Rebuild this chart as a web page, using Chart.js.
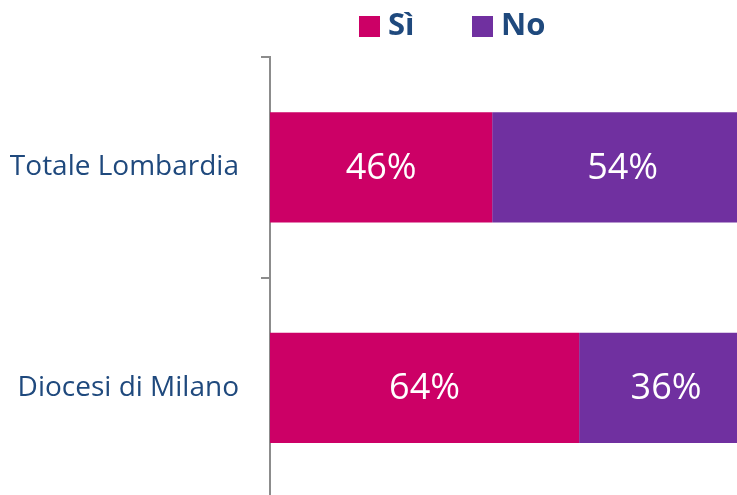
<!DOCTYPE html>
<html>
<head>
<meta charset="utf-8">
<script src="https://cdn.jsdelivr.net/npm/chart.js@4"></script>
<style>
  html, body { margin: 0; padding: 0; background: #fff; overflow: hidden; }
  #wrap { width: 737px; height: 495px; overflow: hidden; }
</style>
</head>
<body>
<div id="wrap"><canvas id="bar-chart" width="753" height="498"></canvas></div>
<script>
// dati
const categorie = ["Totale Lombardia", "Diocesi di Milano"];
const si = [46, 64];
const no = [54, 36];
const nomiSerie = ["Sì", "No"];
const coloriSerie = ["#CC0066", "#7030A0"];

const FONT = "'Open Sans', sans-serif";
const BLU = "#1F497D";

// legenda disegnata a mano per avere la stessa posizione dell'originale
const legendaPlugin = {
  id: "legendaCustom",
  afterDraw(chart) {
    const ctx = chart.ctx;
    const posBox = [359, 472];
    ctx.save();
    ctx.font = "bold 31px " + FONT;
    ctx.textBaseline = "middle";
    ctx.textAlign = "left";
    nomiSerie.forEach((nome, i) => {
      ctx.fillStyle = coloriSerie[i];
      ctx.fillRect(posBox[i], 16, 21, 21);
      ctx.fillStyle = BLU;
      ctx.fillText(nome, posBox[i] + 29, 26);
    });
    ctx.restore();
  },
};

// etichette dei valori dentro le barre
const etichettePlugin = {
  id: "etichette",
  afterDatasetsDraw(chart) {
    const ctx = chart.ctx;
    ctx.save();
    ctx.font = "36px " + FONT;
    ctx.fillStyle = "#ffffff";
    ctx.textAlign = "center";
    ctx.textBaseline = "middle";
    chart.data.datasets.forEach((ds, i) => {
      const meta = chart.getDatasetMeta(i);
      meta.data.forEach((el, j) => {
        const cx = (el.x + el.base) / 2;
        ctx.fillText(ds.data[j] + "%", cx, el.y + 1);
      });
    });
    ctx.restore();
  },
};

const contenedor = document.querySelector("#bar-chart").getContext("2d");

const barChart = new Chart(contenedor, {
  type: "bar",
  data: {
    labels: categorie,
    datasets: [
      {
        label: nomiSerie[0],
        data: si,
        backgroundColor: coloriSerie[0],
        categoryPercentage: 1,
        barPercentage: 0.5,
      },
      {
        label: nomiSerie[1],
        data: no,
        backgroundColor: coloriSerie[1],
        categoryPercentage: 1,
        barPercentage: 0.5,
      },
    ],
  },
  options: {
    indexAxis: "y",
    responsive: false,
    animation: false,
    layout: { padding: { top: 57, right: 0, bottom: 0, left: 0 } },
    plugins: {
      legend: { display: false },
      tooltip: { enabled: false },
    },
    scales: {
      x: {
        stacked: true,
        min: 0,
        max: 100,
        display: false,
      },
      y: {
        stacked: true,
        afterFit(scale) {
          scale.width = 270;
          scale.paddingTop = 0;
          scale.paddingBottom = 0;
        },
        border: { display: true, color: "#8c8c8c", width: 2 },
        grid: {
          offset: true,
          drawOnChartArea: false,
          drawTicks: true,
          tickLength: 9,
          color: "#8c8c8c",
          lineWidth: 2,
        },
        ticks: {
          color: BLU,
          padding: 22,
          font: { family: FONT, size: 28 },
        },
      },
    },
  },
  plugins: [legendaPlugin, etichettePlugin],
});
</script>
</body>
</html>
